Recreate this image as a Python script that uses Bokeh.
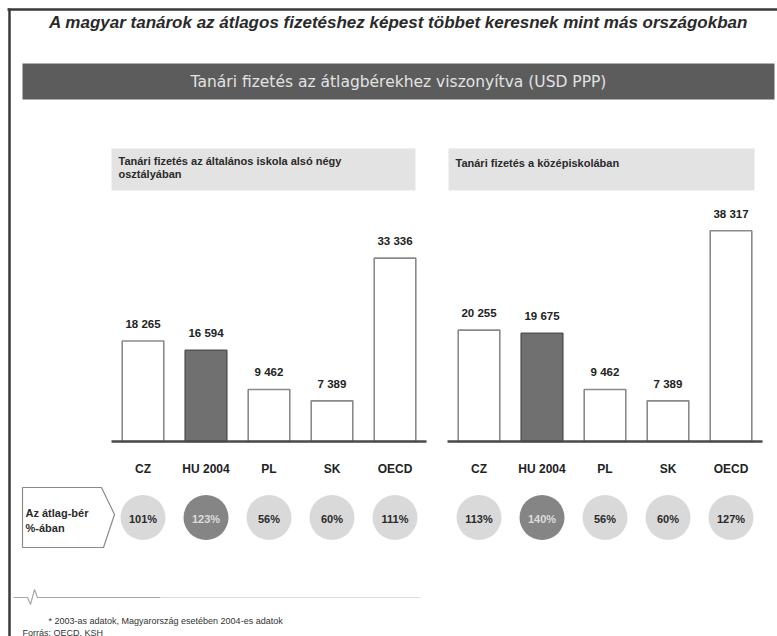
from bokeh.plotting import figure
from bokeh.models import Range1d
from bokeh.core.properties import value
from bokeh.embed import file_html
from bokeh.resources import INLINE

# ---------------- data ----------------
categories = ["CZ", "HU 2004", "PL", "SK", "OECD"]
primary_salary = [18265, 16594, 9462, 7389, 33336]
secondary_salary = [20255, 19675, 9462, 7389, 38317]
primary_pct = [101, 123, 56, 60, 111]
secondary_pct = [113, 140, 56, 60, 127]
highlight = "HU 2004"

title_text = "A magyar tanárok az átlagos fizetéshez képest többet keresnek mint más országokban"
banner_text = "Tanári fizetés az átlagbérekhez viszonyítva (USD PPP)"
sub_left = ["Tanári fizetés az általános iskola alsó négy", "osztályában"]
sub_right = ["Tanári fizetés a középiskolában"]
row_label = ["Az átlag-bér", "%-ában"]
footnote_text = "* 2003-as adatok, Magyarország esetében 2004-es adatok"
source_text = "Forrás: OECD, KSH"

# ---------------- layout (page pixel coordinates) ----------------
W, H = 777, 636
FONT = "Liberation Sans"
K = 0.0055  # px per USD

p = figure(width=W, height=H, output_backend="svg", toolbar_location=None,
           x_range=Range1d(0, W), y_range=Range1d(H, 0),
           min_border=0, background_fill_color="white", border_fill_color="white")
p.axis.visible = False
p.grid.visible = False
p.outline_line_color = None

# frame lines (top and left)
p.segment(x0=[7, 9], y0=[9, 8], x1=[W, 9], y1=[9, H],
          line_color="#3a3a3a", line_width=2.5)

# title
p.text(x=[398], y=[22], text=[title_text], text_align="center", text_baseline="middle",
       text_font=value(FONT), text_font_size="17px", text_font_style="bold italic",
       text_color="#2a2a2a")

# banner
p.quad(left=[22], right=[774], top=[63], bottom=[99], fill_color="#5c5c5c", line_color=None)
p.text(x=[398], y=[81], text=[banner_text], text_align="center", text_baseline="middle",
       text_font=value("DejaVu Sans"), text_font_size="15.5px", text_color="#e2e2e2")

panels = [
    dict(name="l", c0=142.5, step=63.0, base=441, vals=primary_salary, pct=primary_pct,
         box=(111, 415), sub=sub_left, sub_y=160),
    dict(name="r", c0=478.5, step=63.0, base=441, vals=secondary_salary, pct=secondary_pct,
         box=(448, 754), sub=sub_right, sub_y=162),
]

idx = list(range(len(categories)))
for pn in panels:
    xr = "x" + pn["name"]
    yr = "y" + pn["name"]
    p.extra_x_ranges[xr] = Range1d(-pn["c0"] / pn["step"], (W - pn["c0"]) / pn["step"])
    p.extra_y_ranges[yr] = Range1d(-(H - pn["base"]) / K, pn["base"] / K)

    # subtitle box
    bl, br = pn["box"]
    p.quad(left=[bl], right=[br], top=[148], bottom=[190], fill_color="#e3e3e3", line_color=None)
    p.text(x=[bl + 7] * len(pn["sub"]), y=[pn["sub_y"] + 13 * i for i in range(len(pn["sub"]))],
           text=pn["sub"], text_align="left", text_baseline="middle",
           text_font=value(FONT), text_font_size="11px", text_font_style="bold",
           text_color="#2a2a2a")

    fills = ["#707070" if c == highlight else "white" for c in categories]
    lines = ["#555555" if c == highlight else "#8a8a8a" for c in categories]
    p.vbar(x=idx, top=pn["vals"], bottom=0, width=0.66, fill_color=fills, line_color=lines,
           line_width=1.6, x_range_name=xr, y_range_name=yr)
    # baseline
    p.segment(x0=[-0.5], y0=[0], x1=[4.5], y1=[0], line_color="#4a4a4a", line_width=2.5,
              x_range_name=xr, y_range_name=yr)
    labels = [f"{v:,}".replace(",", " ") for v in pn["vals"]]
    p.text(x=idx, y=pn["vals"], text=labels, y_offset=-11, text_align="center",
           text_baseline="bottom", text_font=value(FONT), text_font_size="11.5px",
           text_font_style="bold", text_color="#222222", x_range_name=xr, y_range_name=yr)
    # categories
    p.text(x=idx, y=[0] * 5, text=categories, y_offset=27, text_align="center",
           text_baseline="middle", text_font=value(FONT), text_font_size="12px",
           text_font_style="bold", text_color="#222222", x_range_name=xr, y_range_name=yr)
    # percentage circles
    cfill = ["#858585" if c == highlight else "#d9d9d9" for c in categories]
    ctext = ["#dcdcdc" if c == highlight else "#2a2a2a" for c in categories]
    p.scatter(x=idx, y=[517] * 5, marker="circle", size=45, fill_color=cfill, line_color=None,
              x_range_name=xr)
    p.text(x=idx, y=[518] * 5, text=[f"{v}%" for v in pn["pct"]], text_align="center",
           text_baseline="middle", text_font=value(FONT), text_font_size="11px",
           text_font_style="bold", text_color=ctext, x_range_name=xr)

# row label arrow box
p.patch(x=[22, 101, 114, 103, 22], y=[487, 487, 514, 547, 547], fill_color="white",
        line_color="#8a8a8a", line_width=1.2)
p.text(x=[25, 25], y=[512, 527], text=row_label, text_align="left", text_baseline="middle",
       text_font=value(FONT), text_font_size="11px", text_font_style="bold",
       text_color="#2a2a2a")

# bottom separator line with small zigzag
p.line(x=[13, 27, 30, 34, 37, 160], y=[597, 597, 604, 589, 597, 597], line_color="#a8a8a8",
       line_width=1.2)
p.line(x=[160, 420], y=[597, 597], line_color="#dddddd", line_width=1.2)

# footnotes
p.text(x=[48], y=[620], text=[footnote_text], text_align="left", text_baseline="middle",
       text_font=value(FONT), text_font_size="9px", text_color="#333333")
p.text(x=[22], y=[632], text=[source_text], text_align="left", text_baseline="middle",
       text_font=value(FONT), text_font_size="9px", text_color="#333333")

open("out.html", "w").write(file_html(p, INLINE))
